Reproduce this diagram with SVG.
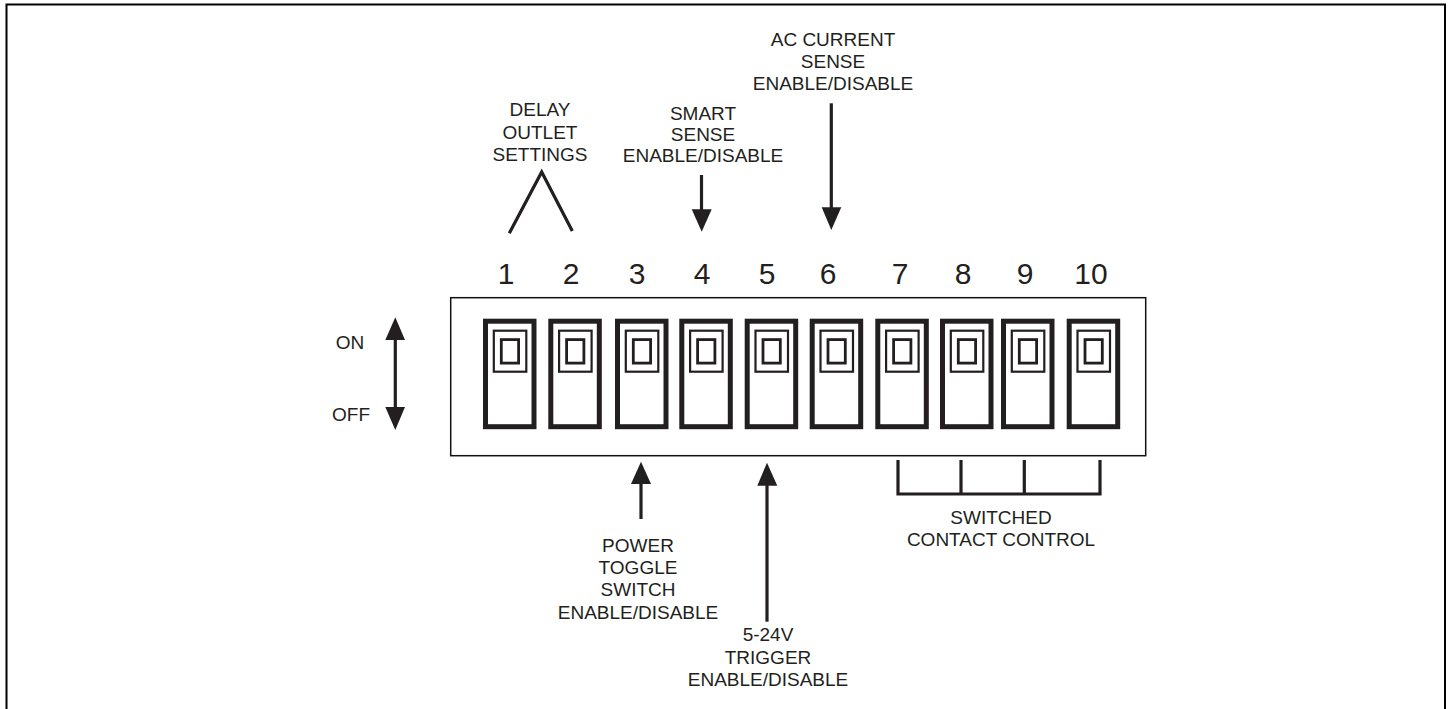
<svg xmlns="http://www.w3.org/2000/svg" width="1449" height="709" viewBox="0 0 1449 709">
<style>
text{font-family:"Liberation Sans",Arial,sans-serif;font-size:19px;fill:#231f20;text-anchor:middle}
.n{font-size:30px}
.l{fill:none;stroke:#231f20;stroke-width:3.200}
.s{fill:#fff;stroke:#231f20;stroke-width:5}
.i{fill:none;stroke:#231f20;stroke-width:2.200}
.m{fill:none;stroke:#231f20;stroke-width:2.800}
</style>
<defs>
<g id="sw"><rect class="s" x="2.500" y="2.500" width="48.500" height="105.500"/><rect class="i" x="10.800" y="12" width="32.500" height="41"/><rect class="m" x="18.300" y="20.900" width="17.300" height="23.500"/></g>
</defs>
<path d="M6.500 709V4.500H1445V709" fill="none" stroke="#000" stroke-width="2"/>
<g id="panel"><rect x="450.700" y="297.700" width="695" height="158" fill="#fff" stroke="#111" stroke-width="1.500"/></g>
<g id="sw1"><use href="#sw" x="483" y="318.700"/><text class="n" x="506" y="284">1</text></g>
<g id="sw2"><use href="#sw" x="548.300" y="318.700"/><text class="n" x="571" y="284">2</text></g>
<g id="sw3"><use href="#sw" x="615" y="318.700"/><text class="n" x="637" y="284">3</text></g>
<g id="sw4"><use href="#sw" x="679.300" y="318.700"/><text class="n" x="702" y="284">4</text></g>
<g id="sw5"><use href="#sw" x="744.700" y="318.700"/><text class="n" x="767" y="284">5</text></g>
<g id="sw6"><use href="#sw" x="809.700" y="318.700"/><text class="n" x="828" y="284">6</text></g>
<g id="sw7"><use href="#sw" x="875.300" y="318.700"/><text class="n" x="900" y="284">7</text></g>
<g id="sw8"><use href="#sw" x="940" y="318.700"/><text class="n" x="963" y="284">8</text></g>
<g id="sw9"><use href="#sw" x="1001" y="318.700"/><text class="n" x="1025" y="284">9</text></g>
<g id="sw10"><use href="#sw" x="1066.700" y="318.700"/><text class="n" x="1091" y="284">10</text></g>
<g id="connectors">
<path class="l" d="M509.300 233.300L541.700 172L572.300 231"/>
<path class="l" d="M701.500 175V212"/><path d="M691.700 209.300H711.700L701.700 231.700Z" fill="#231f20"/>
<path class="l" d="M831.300 103.300V210"/><path d="M821.700 207.300H841.300L831.300 230Z" fill="#231f20"/>
<path class="l" d="M395.300 338V409"/><path d="M385.300 340L395.300 317.300L405 340ZM385.300 407H405L395.300 430Z" fill="#231f20"/>
<path class="l" d="M641 480V519"/><path d="M631 484L641 461.700L651 484Z" fill="#231f20"/>
<path class="l" d="M767 482V621.700"/><path d="M757.300 485.700L767 462.700L777.300 485.700Z" fill="#231f20"/>
<path class="l" d="M898 460V494H1100V460M961 460V494M1024.300 460V494"/>
</g>
<g id="label-delay"><text x="540" y="116">DELAY</text><text x="540" y="139">OUTLET</text><text x="540" y="161">SETTINGS</text></g>
<g id="label-smart"><text x="703" y="119.500">SMART</text><text x="703" y="141">SENSE</text><text x="703" y="162">ENABLE/DISABLE</text></g>
<g id="label-ac"><text x="833" y="46">AC CURRENT</text><text x="833" y="68.300">SENSE</text><text x="833" y="90">ENABLE/DISABLE</text></g>
<g id="label-on"><text x="350" y="349">ON</text><text x="351" y="421">OFF</text></g>
<g id="label-power"><text x="638" y="552">POWER</text><text x="638" y="574">TOGGLE</text><text x="638" y="596">SWITCH</text><text x="638" y="619">ENABLE/DISABLE</text></g>
<g id="label-trigger"><text x="768" y="641">5-24V</text><text x="768" y="664">TRIGGER</text><text x="768" y="686">ENABLE/DISABLE</text></g>
<g id="label-contact"><text x="1001" y="524">SWITCHED</text><text x="1001" y="546">CONTACT CONTROL</text></g>
</svg>
